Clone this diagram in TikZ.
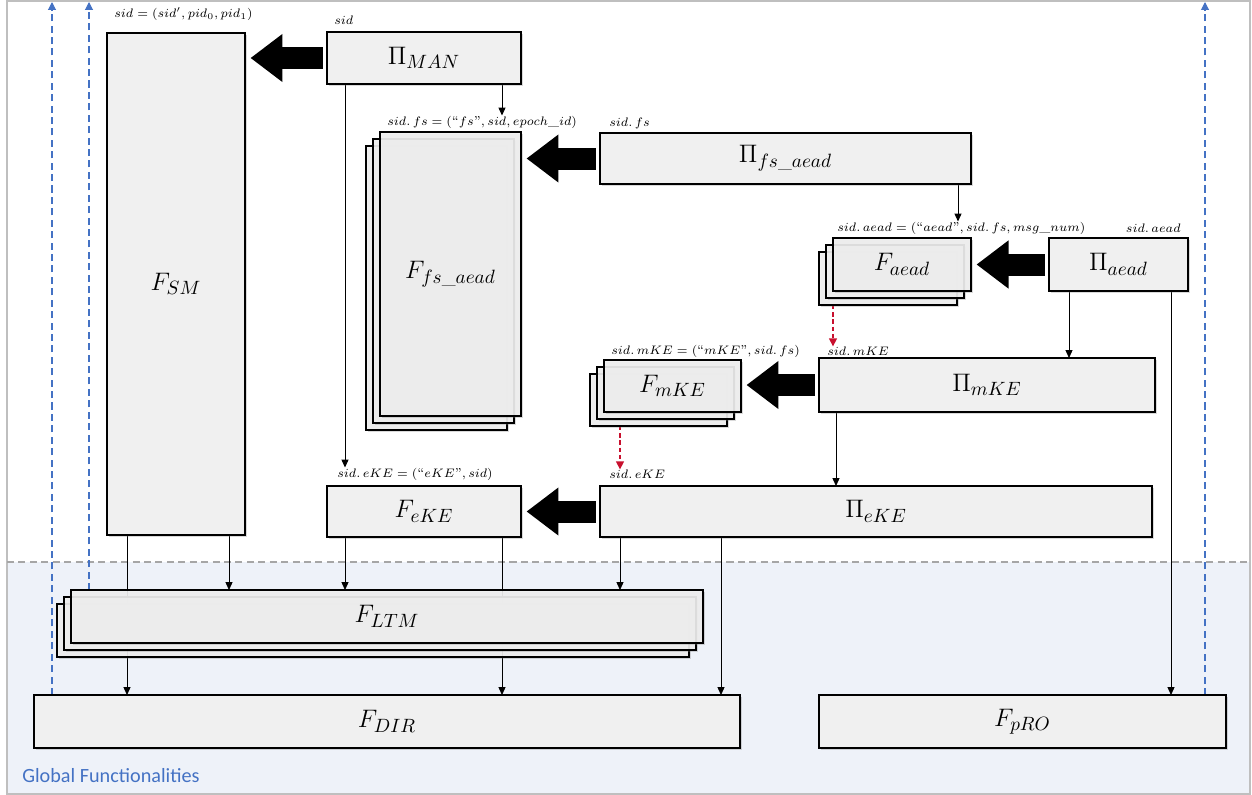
\documentclass[tikz,border=0pt]{standalone}
\usepackage{fontspec}
\usepackage{amsmath}
\newfontfamily\calfont{Carlito}
\usetikzlibrary{arrows.meta,shadows,calc}
\pgfdeclarelayer{back}
\pgfdeclarelayer{conn}
\pgfsetlayers{back,conn,main}
\definecolor{boxfill}{HTML}{F0F0F0}
\definecolor{gblue}{HTML}{4472C4}
\definecolor{gbg}{HTML}{EEF2F9}
\definecolor{framegray}{HTML}{BFBFBF}
\definecolor{sepgray}{HTML}{A6A6A6}
\definecolor{redarr}{HTML}{C8102E}
\tikzset{
  box/.style={draw=black, line width=0.85pt, fill=boxfill, inner sep=0pt, outer sep=0pt,
    drop shadow={shadow xshift=1.4pt, shadow yshift=-1.4pt, opacity=0.3},
    font=\fontsize{15}{17}\selectfont},
  sbox/.style={box, fill opacity=0.9, text opacity=1},
  lab/.style={font=\fontsize{7.4}{9}\selectfont, inner sep=0pt, anchor=west},
  conn/.style={line width=0.5pt, -{Triangle[length=4.5pt,width=4pt]}},
  redconn/.style={redarr, line width=0.6pt, dash pattern=on 2.5pt off 1.6pt, -{Triangle[length=4.5pt,width=4.5pt]}},
  blueconn/.style={gblue, line width=0.6pt, dash pattern=on 4pt off 2.5pt, -{Triangle[length=4.5pt,width=4.5pt]}},
  bigarrow/.style={line width=0.44cm, -{Triangle[length=0.64cm,width=0.92cm]}, shorten <=0.09cm, shorten >=0.11cm}
}
\newcommand\mybox[7][box]{\node[#1, minimum width={((#5)-(#3))*0.02cm}, minimum height={((#6)-(#4))*0.02cm}] (#2) at ({((#3)+(#5))/2},{((#4)+(#6))/2}) {#7};}
\newcommand\mystack[6]{%
  \mybox[sbox]{#1-b}{#2-14}{#3+14}{#4-14}{#5+14}{}%
  \mybox[sbox]{#1-m}{#2-7}{#3+7}{#4-7}{#5+7}{}%
  \mybox[sbox]{#1}{#2}{#3}{#4}{#5}{#6}}
\begin{document}
\begin{tikzpicture}[x=0.02cm, y=-0.02cm]
\useasboundingbox (0,0) rectangle (1252,795);
\begin{pgfonlayer}{back}
  \fill[gbg] (7,562) rectangle (1250,794);
  \draw[framegray, line width=0.6pt] (7,1) rectangle (1250,794);
  \draw[sepgray, line width=0.9pt, dash pattern=on 4pt off 2.5pt] (7,562) -- (1250,562);
\end{pgfonlayer}
\coordinate (topc) at (0,2);
% boxes
\mybox{fsm}{107}{33}{245}{535}{$F_{SM}$}
\mybox{pman}{327}{32}{521}{84}{$\Pi_{MAN}$}
\mystack{ffs}{380}{132}{521}{416}{$F_{fs\_aead}$}
\mybox{pfs}{600}{133}{971}{184}{$\Pi_{fs\_aead}$}
\mystack{faead}{833}{238}{971}{291}{$F_{aead}$}
\mybox{paead}{1049}{238}{1188}{291}{$\Pi_{aead}$}
\mystack{fmke}{604}{360}{741}{412}{$F_{mKE}$}
\mybox{pmke}{819}{358}{1155}{412}{$\Pi_{mKE}$}
\mybox{feke}{327}{486}{521}{537}{$F_{eKE}$}
\mybox{peke}{600}{486}{1152}{537}{$\Pi_{eKE}$}
\mystack{fltm}{71}{590}{703}{643}{$F_{LTM}$}
\mybox{fdir}{34}{695}{740}{748}{$F_{DIR}$}
\mybox{fpro}{819}{695}{1226}{748}{$F_{pRO}$}
% labels
\node[lab] (lsm) at (114,14) {$sid = (sid', pid_0, pid_1)$};
\node[lab] (lman) at (334,20) {$sid$};
\node[lab] (lfs) at (387,122) {$sid.\,fs = (\text{``}fs\text{''}, sid, epoch\_id)$};
\node[lab] (lpfs) at (609,123) {$sid.\,fs$};
\node[lab] (laead) at (837,228) {$sid.\,aead = (\text{``}aead\text{''}, sid.\,fs, msg\_num)$};
\node[lab, anchor=east] (lpaead) at (1181,228) {$sid.\,aead$};
\node[lab] (lmke) at (611,351) {$sid.\,mKE = (\text{``}mKE\text{''}, sid.\,fs)$};
\node[lab] (lpmke) at (827,351) {$sid.\,mKE$};
\node[lab] (leke) at (337,474) {$sid.\,eKE = (\text{``}eKE\text{''}, sid)$};
\node[lab] (lpeke) at (609,474) {$sid.\,eKE$};
\node[anchor=west, inner sep=0pt, text=gblue, font=\calfont\fontsize{11.5}{13}\selectfont] (glob) at (22,776) {Global Functionalities};
% connectors
\begin{pgfonlayer}{conn}
  \draw[conn] (502,0 |- pman.south) -- (502,0 |- lfs.north);
  \draw[conn] (345,0 |- pman.south) -- (345,0 |- leke.north);
  \draw[conn] (958,0 |- pfs.south) -- (958,0 |- laead.north);
  \draw[conn] (1069,0 |- paead.south) -- (1069,0 |- pmke.north);
  \draw[conn] (1171,0 |- paead.south) -- (1171,0 |- fpro.north);
  \draw[redconn] (833,0 |- faead-b.south) -- (833,0 |- lpmke.north);
  \draw[redconn] (620,0 |- fmke-b.south) -- (620,0 |- lpeke.north);
  \draw[conn] (836,0 |- pmke.south) -- (836,0 |- peke.north);
  \draw[conn] (229,0 |- fsm.south) -- (229,0 |- fltm.north);
  \draw[conn] (127,0 |- fsm.south) -- (127,0 |- fdir.north);
  \draw[conn] (345,0 |- feke.south) -- (345,0 |- fltm.north);
  \draw[conn] (502,0 |- feke.south) -- (502,0 |- fdir.north);
  \draw[conn] (620,0 |- peke.south) -- (620,0 |- fltm.north);
  \draw[conn] (721,0 |- peke.south) -- (721,0 |- fdir.north);
  \draw[blueconn] (52,0 |- fdir.north) -- (52,0 |- topc);
  \draw[blueconn] (89,0 |- fltm.north) -- (89,0 |- topc);
  \draw[blueconn] (1205,0 |- fpro.north) -- (1205,0 |- topc);
\end{pgfonlayer}
% big arrows
\draw[bigarrow] (pman.west) -- (pman.west -| fsm.east);
\draw[bigarrow] (pfs.west) -- (pfs.west -| ffs.east);
\draw[bigarrow] (paead.west) -- (paead.west -| faead.east);
\draw[bigarrow] (pmke.west) -- (pmke.west -| fmke.east);
\draw[bigarrow] (peke.west) -- (peke.west -| feke.east);
\end{tikzpicture}
\end{document}
